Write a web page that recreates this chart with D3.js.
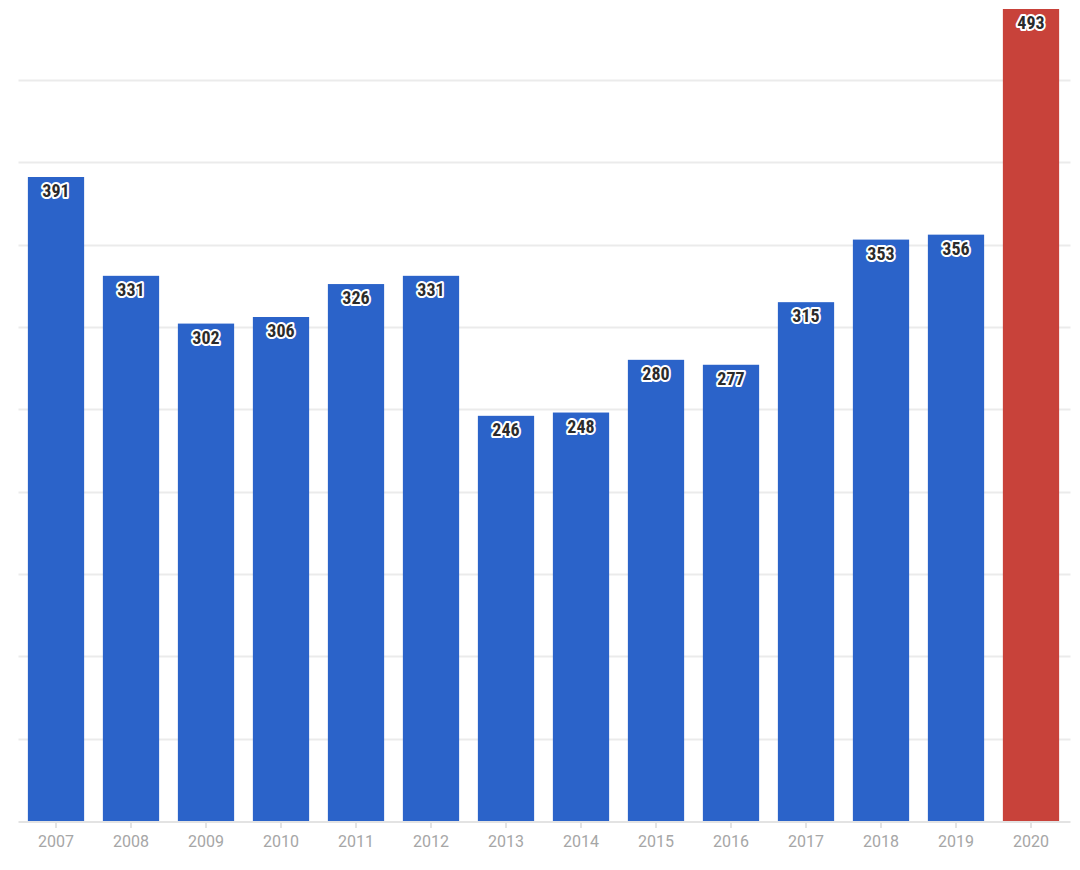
<!DOCTYPE html>
<html>
<head>
<meta charset="utf-8">
<script src="https://cdn.jsdelivr.net/npm/d3@7"></script>
<style>
  body { margin: 0; background: #fff; }
  .grid line { stroke: #ebebeb; stroke-width: 2; }
  .axis--x path, .axis--x line { stroke: #e3e3e3; stroke-width: 2; }
  .axis--x text { fill: #a6a6a6; font-family: Roboto, sans-serif; font-size: 16px; }
  .label { font-family: "Roboto Condensed", "Liberation Sans Narrow", Roboto, sans-serif; font-weight: bold; font-size: 18px; fill: #2b2b2b;
           stroke: #fff; stroke-width: 4px; paint-order: stroke; stroke-linejoin: round; }
</style>
</head>
<body>
<svg width="1080" height="870"></svg>
<script>
// data
var years = ["2007","2008","2009","2010","2011","2012","2013","2014","2015","2016","2017","2018","2019","2020"];
var values = [391, 331, 302, 306, 326, 331, 246, 248, 280, 277, 315, 353, 356, 493];
var gridTicks = [50, 100, 150, 200, 250, 300, 350, 400, 450];

var svg = d3.select("svg"),
    margin = {top: 9, right: 11.5, bottom: 49, left: 18.5},
    width = +svg.attr("width") - margin.left - margin.right,
    height = +svg.attr("height") - margin.top - margin.bottom;

var x = d3.scaleBand().range([0, width]).paddingInner(0.25).paddingOuter(0.125),
    y = d3.scaleLinear().range([height, 0]);

x.domain(years);
y.domain([0, d3.max(values)]);

var g = svg.append("g")
    .attr("transform", "translate(" + margin.left + "," + margin.top + ")");

// gridlijnen
g.append("g")
    .attr("class", "grid")
  .selectAll("line")
  .data(gridTicks)
  .enter().append("line")
    .attr("x1", 0)
    .attr("x2", width + 2)
    .attr("y1", function(d) { return Math.round(y(d)) + 0.5; })
    .attr("y2", function(d) { return Math.round(y(d)) + 0.5; });

var data = years.map(function(d, i) { return {year: d, value: values[i]}; });

g.selectAll(".bar")
  .data(data)
  .enter().append("rect")
    .attr("class", "bar")
    .attr("x", function(d) { return x(d.year); })
    .attr("y", function(d) { return y(d.value); })
    .attr("width", x.bandwidth())
    .attr("height", function(d) { return height - y(d.value); })
    .attr("fill", function(d) { return d.year === "2020" ? "#c8423a" : "#2b63c9"; });

g.append("g")
    .attr("class", "axis axis--x")
    .attr("transform", "translate(0," + (height + 1) + ")")
    .call(d3.axisBottom(x).tickSize(6).tickSizeOuter(0).tickPadding(8));

g.select(".axis--x .domain").attr("d", "M0,0H" + (width + 2));

g.selectAll(".label")
  .data(data)
  .enter().append("text")
    .attr("class", "label")
    .attr("x", function(d) { return x(d.year) + x.bandwidth() / 2; })
    .attr("y", function(d) { return y(d.value) + 14; })
    .attr("dy", "0.35em")
    .attr("text-anchor", "middle")
    .text(function(d) { return d.value; });
</script>
</body>
</html>
